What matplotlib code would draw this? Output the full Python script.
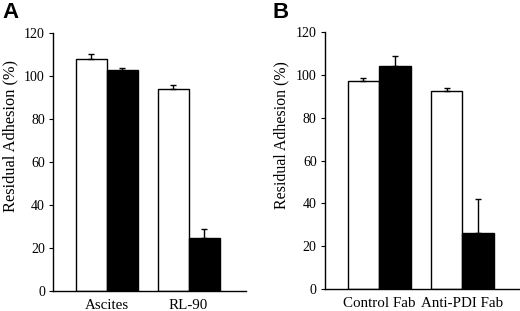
import matplotlib
matplotlib.use("Agg")
import matplotlib.pyplot as plt
import numpy as np

plt.rcParams['font.family'] = ['Liberation Serif', 'DejaVu Serif']

cats_a = ["Ascites", "RL-90"]
white_a = [108.2, 94.0]
white_err_a = [2.2, 1.8]
black_a = [103.0, 24.7]
black_err_a = [1.0, 4.2]

cats_b = ["Control Fab", "Anti-PDI Fab"]
white_b = [97.3, 92.5]
white_err_b = [1.4, 1.3]
black_b = [104.2, 26.2]
black_err_b = [4.7, 15.6]

yticks = [0, 20, 40, 60, 80, 100, 120]

fig = plt.figure(figsize=(5.2, 3.11), dpi=100)

def panel(rect, cats, wv, we, bv, be, xlim, ylab_size):
    ax = fig.add_axes(rect)
    x = np.arange(len(cats))
    w = 0.378
    ax.bar(x - w/2, wv, w, color='white', edgecolor='black', linewidth=1.0,
           yerr=[np.zeros(len(we)), we], error_kw=dict(ecolor='black', elinewidth=1.0, capsize=2.5, capthick=1.0))
    ax.bar(x + w/2, bv, w, color='black', edgecolor='black', linewidth=1.0,
           yerr=[np.zeros(len(be)), be], error_kw=dict(ecolor='black', elinewidth=1.0, capsize=2.5, capthick=1.0))
    ax.set_xlim(*xlim)
    ax.set_ylim(0, 120)
    ax.set_yticks(yticks)
    ax.set_xticks(x)
    ax.set_xticklabels(cats, fontsize=10.8)
    ax.tick_params(axis='x', length=0, pad=6)
    ax.tick_params(axis='y', length=3, width=0.8, labelsize=10, pad=3)
    ax.spines['top'].set_visible(False)
    ax.spines['right'].set_visible(False)
    ax.spines['left'].set_linewidth(1.0)
    ax.spines['bottom'].set_linewidth(1.0)
    ax.set_ylabel("Residual Adhesion (%)", fontsize=ylab_size)
    return ax

axA = panel([53.3/520, 0.0653, (246-53.3)/520, 0.893-0.0653], cats_a, white_a, white_err_a, black_a, black_err_a, (-0.65, 1.70), 11.8)
axB = panel([325/520, 0.0717, (520-325)/520, 0.896-0.0717], cats_b, white_b, white_err_b, black_b, black_err_b, (-0.648, 1.69), 11.4)
axA.yaxis.set_label_coords(-0.183, 0.6)
axB.yaxis.set_label_coords(-0.185, 0.6)

fig.text(2/520, 1-2/311, "A", family='Liberation Sans', weight='bold', fontsize=16, va='top', ha='left')
fig.text(273/520, 1-2/311, "B", family='Liberation Sans', weight='bold', fontsize=16, va='top', ha='left')

fig.savefig("out.png", dpi=100)
